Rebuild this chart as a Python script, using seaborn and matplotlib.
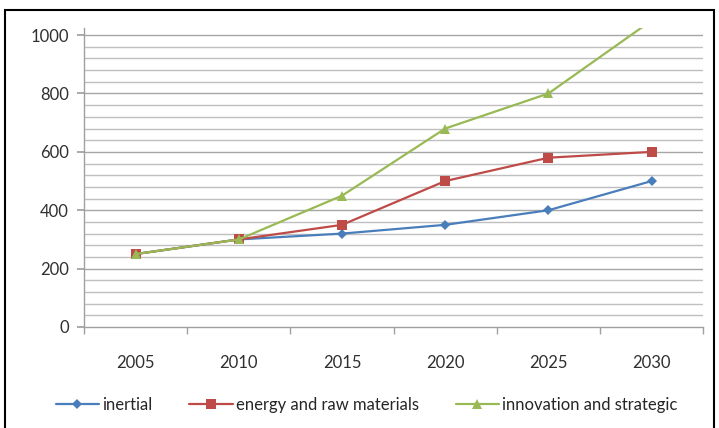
import numpy as np
import pandas as pd
import matplotlib
matplotlib.use("Agg")
import matplotlib.pyplot as plt
import seaborn as sns
from matplotlib.patches import Rectangle

# data
years = [2005, 2010, 2015, 2020, 2025, 2030]
inertial = [250, 300, 320, 350, 400, 500]
energy = [250, 300, 350, 500, 580, 600]
innovation = [250, 300, 450, 680, 800, 1050]
series_names = ["inertial", "energy and raw materials", "innovation and strategic"]

sns.set_theme(style="white")
plt.rcParams['font.family'] = ['Lato', 'DejaVu Sans']

df = pd.DataFrame({
    "year": years * 3,
    "value": inertial + energy + innovation,
    "scenario": [series_names[0]] * 6 + [series_names[1]] * 6 + [series_names[2]] * 6,
})

colors = ["#4A7EBB", "#BE4B48", "#98B954"]
markers = ["D", "s", "^"]
msizes = [5.5, 6.5, 7]

fig = plt.figure(figsize=(7.19, 4.28), dpi=100)
ax = fig.add_axes([0.117, 0.236, 0.861, 0.699])

sns.lineplot(data=df, x="year", y="value", hue="scenario", style="scenario",
             palette=colors, markers=markers, dashes=False, markersize=7,
             markeredgewidth=0, linewidth=1.6, ax=ax, legend=True)

for line, ms in zip(ax.lines[:3], msizes):
    line.set_markersize(ms)

ax.set_xlim(2002.5, 2032.5)
ax.set_ylim(0, 1025)
ax.set_xticks(years)
ax.set_xticks(np.arange(2002.5, 2033, 5), minor=True)
ax.set_yticks(range(0, 1001, 200))
ax.set_yticks(range(0, 1001, 40), minor=True)
ax.set_xlabel("")
ax.set_ylabel("")

# grid: minor every 40, major every 200
ax.grid(False)
for v in range(40, 1001, 40):
    ax.axhline(v, color="#BFBFBF" if v % 200 else "#A6A6A6", lw=1.0, zorder=0)

for s in ["top", "right"]:
    ax.spines[s].set_visible(False)
for s in ["left", "bottom"]:
    ax.spines[s].set_color("#A0A0A0")
    ax.spines[s].set_linewidth(1.0)

ax.tick_params(axis="x", which="major", length=0, pad=20, labelsize=12, colors="#303030")
ax.tick_params(axis="x", which="minor", length=5, direction="out", color="#A0A0A0", bottom=True)
ax.tick_params(axis="y", which="major", length=5, direction="out", color="#A0A0A0", pad=6,
               labelsize=12, colors="#303030", left=True)
ax.tick_params(axis="y", which="minor", length=0)

handles, labels = ax.get_legend_handles_labels()
for h, ms in zip(handles, msizes):
    h.set_markersize(ms)
ax.legend_.remove()
fig.legend(handles, labels, ncol=3, loc="center", bbox_to_anchor=(0.51, 0.054),
           frameon=False, fontsize=12, handlelength=2.6, columnspacing=2.2,
           handletextpad=0.2)

fig.patches.append(Rectangle((5 / 719, -0.05), 709 / 719, 1.05 - 10 / 428, fill=False,
                             edgecolor="black", linewidth=1.5, transform=fig.transFigure,
                             figure=fig))

fig.savefig("out.png", dpi=100)
